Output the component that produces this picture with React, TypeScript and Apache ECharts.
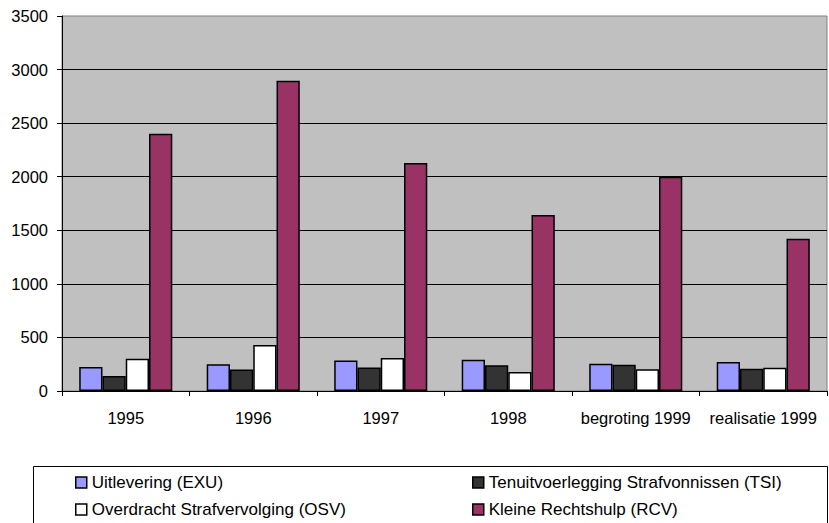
import React, { useEffect, useRef } from "react";
import * as echarts from "echarts";

const categories = ["1995", "1996", "1997", "1998", "begroting 1999", "realisatie 1999"];
const exu = [225, 250, 285, 292, 255, 270];
const tsi = [140, 200, 220, 240, 245, 208];
const osv = [300, 430, 308, 177, 202, 218];
const rcv = [2400, 2895, 2128, 1643, 2000, 1420];
const seriesNames = [
  "Uitlevering (EXU)",
  "Tenuitvoerlegging Strafvonnissen (TSI)",
  "Overdracht Strafvervolging (OSV)",
  "Kleine Rechtshulp (RCV)",
];
const seriesColors = ["#9999FF", "#333333", "#FFFFFF", "#993366"];
const seriesData = [exu, tsi, osv, rcv];

const FONT = "'Liberation Sans', Arial, sans-serif";

export default function App() {
  const ref = useRef<HTMLDivElement>(null);
  useEffect(() => {
    if (!ref.current) return;
    const chart = echarts.init(ref.current, undefined, { renderer: "svg" });
    const legendText = { color: "#000", fontSize: 17, lineHeight: 17, fontFamily: FONT };
    const legendCommon = {
      orient: "vertical",
      top: 474,
      height: 60,
      padding: 0,
      icon: "rect",
      itemWidth: 11,
      itemHeight: 11,
      itemGap: 10,
      itemStyle: { borderColor: "#000", borderWidth: 1.5 },
      textStyle: legendText,
    };
    chart.setOption({
      animation: false,
      textStyle: { fontFamily: FONT },
      grid: {
        left: 62,
        top: 16,
        right: 2,
        bottom: 132,
        show: true,
        backgroundColor: "#C0C0C0",
        borderColor: "#808080",
        borderWidth: 1,
      },
      xAxis: {
        type: "category",
        data: categories,
        axisLine: { show: true, lineStyle: { color: "#000", width: 1 } },
        axisTick: { show: true, interval: 0, length: 5, lineStyle: { color: "#000" } },
        axisLabel: {
          interval: 0,
          hideOverlap: false,
          color: "#000",
          fontSize: 16.5,
          fontFamily: FONT,
          margin: 18,
        },
      },
      yAxis: {
        type: "value",
        min: 0,
        max: 3500,
        interval: 500,
        axisLine: { show: true, lineStyle: { color: "#000", width: 1 } },
        axisTick: { show: true, length: 5, lineStyle: { color: "#000" } },
        axisLabel: {
          color: "#000",
          fontSize: 16.5,
          fontFamily: FONT,
          margin: 14,
          formatter: (v: number) => String(v),
        },
        splitLine: { show: true, showMaxLine: false, lineStyle: { color: "#000", width: 1 } },
      },
      legend: [
        { ...legendCommon, data: [seriesNames[0], seriesNames[2]], left: 75 },
        { ...legendCommon, data: [seriesNames[1], seriesNames[3]], left: 472 },
      ],
      graphic: [
        {
          type: "rect",
          shape: { x: 33.5, y: 466.5, width: 794, height: 80 },
          style: { fill: "none", stroke: "#000", lineWidth: 1 },
          silent: true,
        },
      ],
      series: seriesData.map((d, i) => ({
        name: seriesNames[i],
        type: "bar",
        data: d,
        barGap: "0%",
        barCategoryGap: "27%",
        itemStyle: { color: seriesColors[i], borderColor: "#000", borderWidth: 1.5 },
      })),
    });
    return () => chart.dispose();
  }, []);
  return (
    <div
      ref={ref}
      style={{ position: "absolute", left: 0, top: 0, width: 829, height: 523 }}
    />
  );
}
